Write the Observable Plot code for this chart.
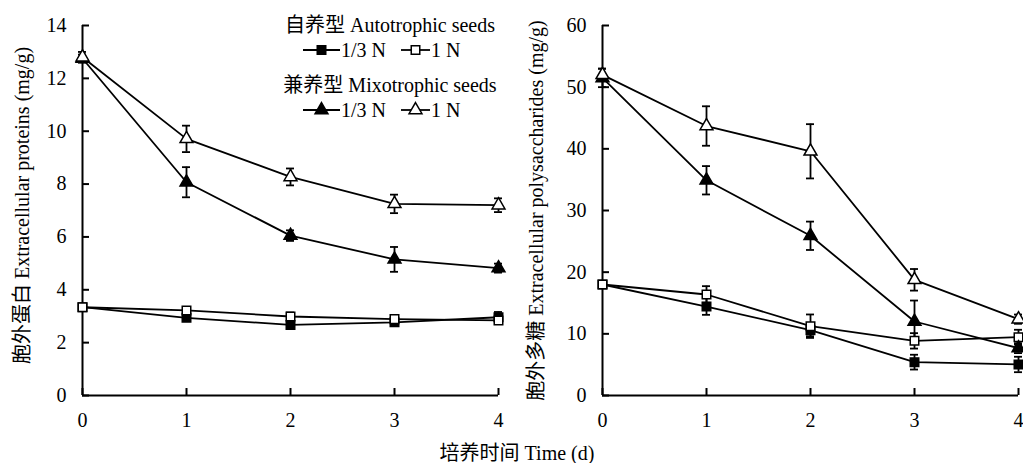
<!DOCTYPE html>
<html><head><meta charset="utf-8">
<script src="https://cdn.jsdelivr.net/npm/d3@7"></script>
<script src="https://cdn.jsdelivr.net/npm/@observablehq/plot@0.6"></script>
<style>
body{margin:0;background:#fff;}
#wrap{position:relative;width:1023px;height:463px;font-family:"Liberation Serif","Times New Roman","Noto Sans CJK SC",serif;color:#000;overflow:hidden;}
#wrap svg{overflow:visible;}
#wrap text{font-family:"Liberation Serif","Times New Roman","Noto Sans CJK SC",serif;}
#left{position:absolute;left:0;top:0;}
#right{position:absolute;left:520px;top:0;}
#xtitle{position:absolute;left:417px;width:200px;top:440px;text-align:center;font-size:20px;line-height:26px;white-space:nowrap;}
#legend{position:absolute;left:0;top:0;}
</style></head><body>
<div id="wrap"><div id="left"></div><div id="right"></div><div id="xtitle">培养时间 Time (d)</div><svg id="legend" width="520" height="130"></svg></div>
<script>
const days = [0, 1, 2, 3, 4];
const proteinTicks = [0, 2, 4, 6, 8, 10, 12, 14];
const polyTicks = [0, 10, 20, 30, 40, 50, 60];
const seriesNames = ["auto13N", "auto1N", "mixo13N", "mixo1N"];

// Extracellular proteins (mg/g)
const protAuto13N = [3.34, 2.94, 2.67, 2.77, 2.96];
const protAuto13NErr = [0.10, 0.12, 0.12, 0.10, 0.20];
const protAuto1N = [3.34, 3.22, 2.99, 2.89, 2.84];
const protAuto1NErr = [0.10, 0.12, 0.15, 0.10, 0.10];
const protMixo13N = [12.75, 8.07, 6.05, 5.15, 4.82];
const protMixo13NErr = [0.15, 0.57, 0.20, 0.47, 0.17];
const protMixo1N = [12.8, 9.71, 8.27, 7.25, 7.20];
const protMixo1NErr = [0.20, 0.50, 0.32, 0.35, 0.26];

// Extracellular polysaccharides (mg/g)
const polyAuto13N = [18.0, 14.43, 10.6, 5.41, 5.03];
const polyAuto13NErr = [0.5, 1.35, 1.0, 1.2, 1.25];
const polyAuto1N = [18.0, 16.38, 11.24, 8.86, 9.46];
const polyAuto1NErr = [0.5, 1.35, 1.9, 1.25, 1.2];
const polyMixo13N = [51.5, 34.9, 25.9, 12.0, 7.68];
const polyMixo13NErr = [1.5, 2.3, 2.3, 3.4, 0.8];
const polyMixo1N = [52.0, 43.7, 39.6, 18.76, 12.38];
const polyMixo1NErr = [1.0, 3.2, 4.4, 1.75, 0.75];

const styles = {
  auto13N: {symbol: "square", fill: "black", r: 4.8},
  auto1N: {symbol: "square", fill: "white", r: 4.8},
  mixo13N: {symbol: "triangle", fill: "black", r: 4.8},
  mixo1N: {symbol: "triangle", fill: "white", r: 4.8}
};

function rows(name, vals, errs) {
  return days.map((d, i) => ({series: name, day: d, v: vals[i], lo: vals[i] - errs[i], hi: vals[i] + errs[i]}));
}

const font = '"Liberation Serif","Times New Roman","Noto Sans CJK SC",serif';

function panel({series, yTicks, yMax, width, yLabel, labelDx, labelDy}) {
  const marks = [
    Plot.ruleX([0], {stroke: "black", strokeWidth: 2}),
    Plot.ruleY([0], {stroke: "black", strokeWidth: 2}),
    Plot.ruleY(yTicks, {y: d => d, x1: 0, x2: 0, insetRight: -7, stroke: "black", strokeWidth: 2}),
    Plot.ruleX(days, {x: d => d, y1: 0, y2: 0, insetTop: -7, stroke: "black", strokeWidth: 2}),
    Plot.axisY({ticks: yTicks, tickSize: 0, tickPadding: 16, fontSize: 20, fontFamily: font, label: null, tickFormat: d => String(d)}),
    Plot.axisX({ticks: days, tickSize: 0, tickPadding: 17, fontSize: 20, fontFamily: font, label: null, tickFormat: d => String(d)}),
    Plot.text([yLabel], {text: d => d, frameAnchor: "left", textAnchor: "middle", lineAnchor: "middle", rotate: -90, dx: labelDx, dy: labelDy, fontSize: 20, fontFamily: font, fill: "black"})
  ];
  for (const s of series) {
    marks.push(Plot.line(s.data, {x: "day", y: "v", stroke: "black", strokeWidth: 1.8}));
  }
  for (const s of series) {
    marks.push(Plot.ruleX(s.data, {x: "day", y1: "lo", y2: "hi", stroke: "black", strokeWidth: 1.8}));
    marks.push(Plot.ruleY(s.data, {y: "hi", x1: "day", x2: "day", insetLeft: -4, insetRight: -4, stroke: "black", strokeWidth: 1.8}));
    marks.push(Plot.ruleY(s.data, {y: "lo", x1: "day", x2: "day", insetLeft: -4, insetRight: -4, stroke: "black", strokeWidth: 1.8}));
  }
  for (const s of series) {
    const st = styles[s.name];
    marks.push(Plot.dot(s.data, {x: "day", y: "v", symbol: st.symbol, fill: st.fill, stroke: "black", strokeWidth: 1.5, r: st.r}));
  }
  return Plot.plot({
    width, height: 463,
    marginLeft: 82, marginRight: width - 82 - 416, marginTop: 25, marginBottom: 68,
    x: {domain: [0, 4]},
    y: {domain: [0, yMax]},
    style: {fontSize: "20px", fontFamily: font, background: "transparent", color: "black", overflow: "visible"},
    marks
  });
}

const left = panel({
  series: [
    {name: "auto13N", data: rows("auto13N", protAuto13N, protAuto13NErr)},
    {name: "auto1N", data: rows("auto1N", protAuto1N, protAuto1NErr)},
    {name: "mixo13N", data: rows("mixo13N", protMixo13N, protMixo13NErr)},
    {name: "mixo1N", data: rows("mixo1N", protMixo1N, protMixo1NErr)}
  ],
  yTicks: proteinTicks, yMax: 14, width: 520,
  yLabel: "胞外蛋白 Extracellular proteins (mg/g)", labelDx: -60, labelDy: -5
});
document.getElementById("left").appendChild(left);

const right = panel({
  series: [
    {name: "auto13N", data: rows("auto13N", polyAuto13N, polyAuto13NErr)},
    {name: "auto1N", data: rows("auto1N", polyAuto1N, polyAuto1NErr)},
    {name: "mixo13N", data: rows("mixo13N", polyMixo13N, polyMixo13NErr)},
    {name: "mixo1N", data: rows("mixo1N", polyMixo1N, polyMixo1NErr)}
  ],
  yTicks: polyTicks, yMax: 60, width: 503,
  yLabel: "胞外多糖 Extracellular polysaccharides (mg/g)", labelDx: -66, labelDy: 0
});
document.getElementById("right").appendChild(right);

// Legend
const legendGroups = ["自养型 Autotrophic seeds", "兼养型 Mixotrophic seeds"];
const legendItems = [["auto13N", "auto1N"], ["mixo13N", "mixo1N"]];
const legendLevels = ["1/3 N", "1 N"];
const lg = d3.select("#legend").style("font-family", font).style("font-size", "20px");
const rowY = [[25, 50], [85, 110]];
const itemX = [303, 401];
legendGroups.forEach((g, gi) => {
  lg.append("text").attr("x", 390).attr("y", rowY[gi][0]).attr("dy", "0.35em").attr("text-anchor", "middle").attr("fill", "black").text(g);
  legendItems[gi].forEach((name, k) => {
    const y = rowY[gi][1];
    const x0 = itemX[k];
    const len = k === 0 ? 37 : 29;
    lg.append("line").attr("x1", x0).attr("x2", x0 + len).attr("y1", y).attr("y2", y).attr("stroke", "black").attr("stroke-width", 1.8);
    const st = styles[name];
    const sym = st.symbol === "square" ? d3.symbolSquare : d3.symbolTriangle;
    lg.append("path").attr("d", d3.symbol(sym, Math.PI * st.r * st.r)()).attr("transform", `translate(${x0 + len / 2},${y})`)
      .attr("fill", st.fill).attr("stroke", "black").attr("stroke-width", 1.5);
    lg.append("text").attr("x", x0 + len + 1).attr("y", y).attr("dy", "0.35em").attr("fill", "black").text(legendLevels[k]);
  });
});
</script>
</body></html>
